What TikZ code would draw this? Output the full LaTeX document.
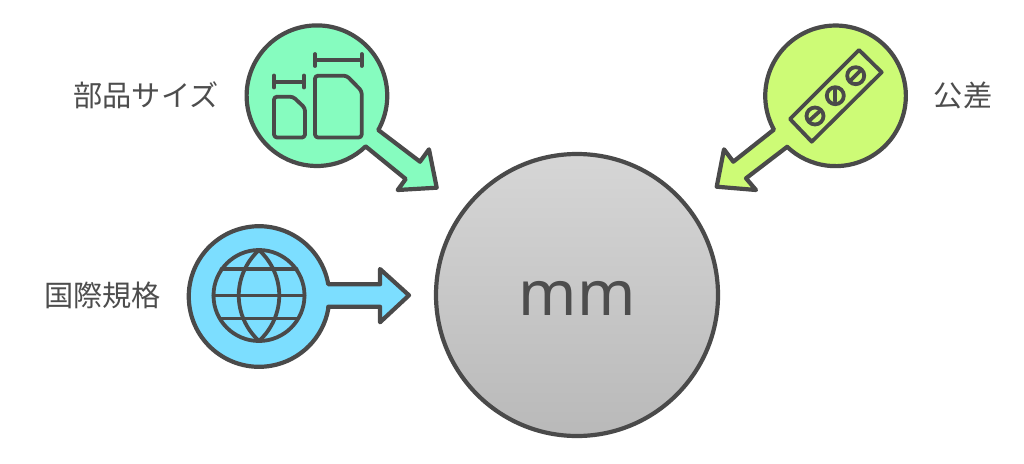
\documentclass[tikz,border=0pt]{standalone}
\usepackage{fontspec}
\setmainfont{Noto Sans}
\newfontfamily\cjk{Noto Sans CJK JP}
\definecolor{ink}{HTML}{4A4A4A}
\definecolor{txt}{HTML}{4D4D4D}
\definecolor{mintc}{HTML}{86FCBF}
\definecolor{skyc}{HTML}{7CDEFF}
\definecolor{limec}{HTML}{CDFB76}
\definecolor{topgray}{HTML}{D6D6D6}
\definecolor{botgray}{HTML}{B9B9B9}
\tikzset{
  outl/.style={draw=ink,line width=4.2pt,line join=round,line cap=round},
  icon/.style={draw=ink,line width=3.8pt,line join=round,line cap=round},
  lab/.style={text=txt,font=\cjk\fontsize{29.2}{32}\selectfont,inner sep=0pt,anchor=center},
}
\begin{document}
\begin{tikzpicture}[x=1pt,y=-1pt]
\useasboundingbox (0,0) rectangle (1024,463);
\fill[white] (0,0) rectangle (1024,463);
% main circle
\node[circle,minimum size=282pt,inner sep=0pt,draw=ink,line width=4.2pt,top color=topgray,bottom color=botgray] (main) at (577,295) {};
\node[text=txt,font=\fontsize{62.5}{66}\selectfont,inner sep=0pt] (mm) at (577,298) {mm};
% green
\draw[outl,fill=mintc] (366,146.7) -- (405.7,179) -- (397.7,190) -- (436.7,187.7) -- (429,149.3) -- (420,161.7) -- (378.3,130)
  arc[start angle=29.2,end angle=-313.7,radius=70.3] -- cycle;
\draw[icon] (274,81.7) -- (304,81.7) (274,75.5) -- (274,87.5) (304,75.5) -- (304,87.5);
\draw[icon] (315,60) -- (361.7,60) (315,54) -- (315,66) (361.7,54) -- (361.7,66);
\draw[icon,rounded corners=3pt] (274,96.7) -- (293,96.7) -- (305,108) -- (305,137.5) -- (274,137.5) -- cycle;
\draw[icon,rounded corners=3pt] (315,75.7) -- (346.7,75.7) -- (361.7,91) -- (361.7,137.5) -- (315,137.5) -- cycle;
% blue
\draw[outl,fill=skyc] (328.3,306.7) -- (380,306.7) -- (380,322.3) -- (409,295.3) -- (380,269) -- (380,284.3) -- (328.3,284.3)
  arc[start angle=-10,end angle=-350,radius=70.3] -- cycle;
\draw[icon] (259,295.5) circle[radius=45.5];
\draw[icon] (213.5,295.5) -- (304.5,295.5);
\draw[icon] (221.5,269) -- (296.5,269) (221.5,318.5) -- (296.5,318.5);
\draw[icon] (259,250) .. controls (232,275) and (232,316) .. (259,341) .. controls (286,316) and (286,275) .. (259,250);
% lime
\draw[outl,fill=limec] (787.3,146.7) -- (746,178.3) -- (756,190) -- (716.7,186.7) -- (724,149.3) -- (733.3,161.7) -- (773.9,129.6)
  arc[start angle=151.3,end angle=493.6,radius=70.3] -- cycle;
\draw[icon] (859,50) -- (881.7,72.3) -- (811.7,141.7) -- (790,119) -- cycle;
\foreach \p/\a in {855.7/75.7,835.3/95.7,815/116}{\draw[icon] (\p,\a) circle[radius=8.5];}
\draw[icon] (851,80) -- (860,71);
\draw[icon] (835.3,90) -- (835.3,101);
\draw[icon] (810,120) -- (820,111);
% labels
\node[lab] (a) at (146,95) {\cjk 部品サイズ};
\node[lab] (b) at (102.5,295) {\cjk 国際規格};
\node[lab] (c) at (963,95) {\cjk 公差};
\end{tikzpicture}
\end{document}
